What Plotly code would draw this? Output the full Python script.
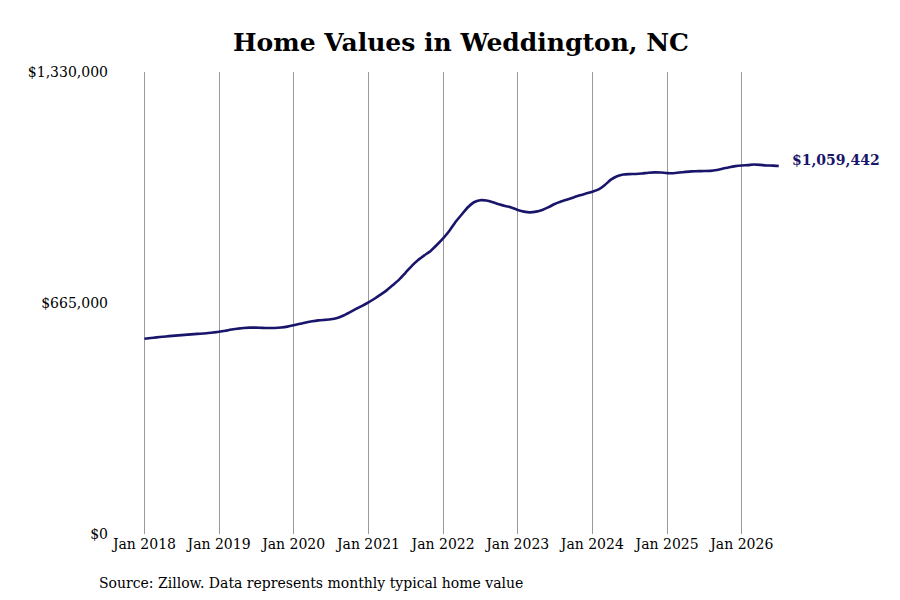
import plotly.graph_objects as go
import pandas as pd

dates = pd.date_range("2018-01-01", "2026-07-01", freq="MS")
values = [
    562000, 564000, 566000, 568000, 569500, 571000, 572500, 574000, 575500, 576500, 578000, 580000,
    582000, 585000, 588500, 591000, 593000, 594000, 594000, 593500, 593000, 593000, 594500, 597000,
    601000, 605000, 609000, 612500, 615000, 616500, 618000, 622000, 629000, 638000, 648000, 657000,
    667000, 678000, 689000, 702000, 717000, 733000, 752000, 772000, 789000, 802000, 815000, 832000,
    851000, 873000, 897000, 919000, 940000, 955000, 961000, 960000, 955000, 949000, 944000, 940000,
    933000, 928000, 926000, 928000, 933000, 941000, 950000, 957000, 963000, 969000, 975000, 980000,
    985000, 992000, 1004000, 1020000, 1030000, 1035000, 1036000, 1036500, 1038000, 1040000, 1041000, 1040500,
    1039000, 1038500, 1040500, 1042500, 1044000, 1044500, 1045000, 1045500, 1048000, 1052000, 1056000, 1059000,
    1061000, 1062000, 1063500, 1062500, 1061000, 1060500, 1059442,
]
tick_dates = pd.date_range("2018-01-01", "2026-01-01", freq="YS")
tick_labels = [d.strftime("Jan %Y") for d in tick_dates]
y_ticks = [0, 665000, 1330000]
y_labels = ["$0", "$665,000", "$1,330,000"]

NAVY = "#19156a"
FONT = "DejaVu Serif"

fig = go.Figure()
fig.add_trace(go.Scatter(
    x=dates, y=values, mode="lines",
    line=dict(color=NAVY, width=2.6, shape="spline", smoothing=0.6),
    hoverinfo="skip", showlegend=False,
))
fig.add_annotation(
    x=dates[-1], y=values[-1], xref="x", yref="y",
    text="<b>${:,}</b>".format(values[-1]), showarrow=False,
    xanchor="left", yanchor="middle", xshift=11, yshift=6,
    font=dict(family=FONT, size=14, color=NAVY),
)
fig.add_annotation(
    x=(89 - 107) / 675, y=(526 - 575) / 462, xref="paper", yref="paper",
    text="Source: Zillow. Data represents monthly typical home value",
    showarrow=False, xanchor="left", yanchor="middle",
    font=dict(family=FONT, size=14, color="#000"),
)
fig.update_layout(
    width=900, height=600,
    paper_bgcolor="white", plot_bgcolor="white",
    margin=dict(l=107, r=118, t=64, b=74),
    title=dict(
        text="<b>Home Values in Weddington, NC</b>",
        x=453 / 900, xref="container", xanchor="center",
        y=1 - 34 / 600, yref="container", yanchor="middle",
        font=dict(family=FONT, size=25, color="#000"),
    ),
    font=dict(family=FONT, size=14, color="#000"),
    xaxis=dict(
        range=["2017-08-10", "2026-08-25"],
        tickvals=tick_dates, ticktext=tick_labels,
        showgrid=True, gridcolor="#9a9a9a", gridwidth=1,
        ticks="", showline=False, zeroline=False,
        tickfont=dict(family=FONT, size=14, color="#000"),
    ),
    yaxis=dict(
        range=[0, 1330000],
        tickvals=y_ticks, ticktext=y_labels,
        showgrid=False, zeroline=False, showline=False,
        ticks="", ticklabelstandoff=6,
        tickfont=dict(family=FONT, size=14, color="#000"),
    ),
)
fig.write_html("out.html")
